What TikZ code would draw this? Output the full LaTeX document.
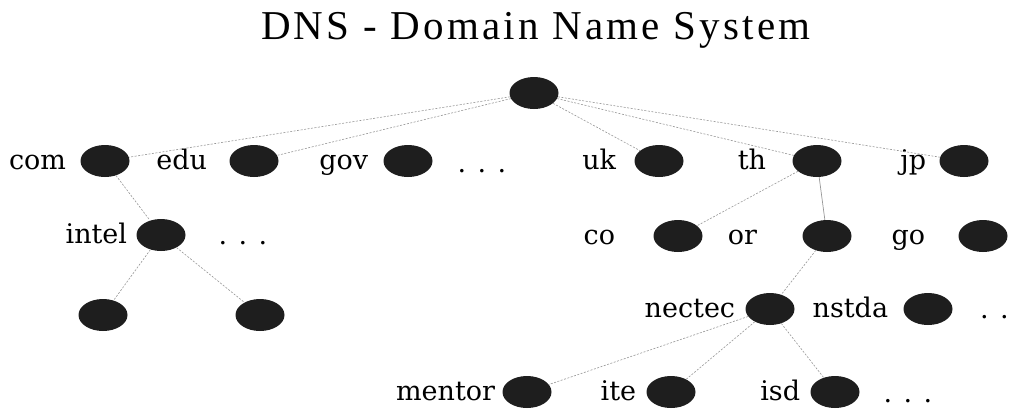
\documentclass[tikz,border=0pt]{standalone}
\usepackage{fontspec}
\setmainfont{DejaVu Serif}
\newfontfamily\titlefont[LetterSpace=8]{Liberation Serif}
\usetikzlibrary{positioning}
\usetikzlibrary{shapes.geometric}
\definecolor{dot-black}{RGB}{30, 30, 30}
\definecolor{link-grey}{RGB}{150, 150, 150}
\tikzset{
  dnsnode/.style={ellipse, fill=dot-black, minimum width=49pt, minimum height=32pt, inner sep=0pt},
  lbl/.style={font=\fontsize{27}{30}\selectfont, inner sep=0pt, text height=17pt, text depth=0pt},
  more/.style={font=\fontsize{27}{30}\selectfont, inner sep=0pt, anchor=base},
  link/.style={draw=link-grey, line width=0.6pt, dash pattern=on 2pt off 1.5pt},
  solidlink/.style={draw=link-grey, line width=0.7pt}
}

\begin{document}
\begin{tikzpicture}[x=1pt, y=-1pt]
\useasboundingbox (0,0) rectangle (1015,408);
\node[font=\titlefont\fontsize{41}{45}\selectfont, anchor=base] (title) at (536,39) {DNS - Domain Name System};

\node[dnsnode] (root) at (534,93) {};

\node[dnsnode] (com) at (105,161) {};
\node[dnsnode] (edu) at (254,161) {};
\node[dnsnode] (gov) at (408,161) {};
\node[dnsnode] (uk) at (659,161) {};
\node[dnsnode] (th) at (817,161) {};
\node[dnsnode] (jp) at (964,161) {};
\node[lbl, left=14pt of com] (com-lbl) {com};
\node[lbl, left=22pt of edu] (edu-lbl) {edu};
\node[lbl, left=15pt of gov] (gov-lbl) {gov};
\node[lbl, left=18pt of uk] (uk-lbl) {uk};
\node[lbl, left=26pt of th] (th-lbl) {th};
\node[lbl, left=13pt of jp] (jp-lbl) {jp};
\node[more] (top-more) at (482,172) {. . .};

\node[dnsnode] (intel) at (161,235) {};
\node[dnsnode] (co) at (678,236) {};
\node[dnsnode] (or) at (827,236) {};
\node[dnsnode] (go) at (983,236) {};
\node[lbl, left=9pt of intel] (intel-lbl) {intel};
\node[lbl, left=38pt of co] (co-lbl) {co};
\node[lbl, left=45pt of or] (or-lbl) {or};
\node[lbl, left=33pt of go] (go-lbl) {go};
\node[more] (intel-more) at (243,244) {. . .};

\node[dnsnode] (intel-a) at (103,315) {};
\node[dnsnode] (intel-b) at (260,315) {};
\node[dnsnode] (nectec) at (770,309) {};
\node[dnsnode] (nstda) at (928,309) {};
\node[lbl, left=10pt of nectec] (nectec-lbl) {nectec};
\node[lbl, left=15pt of nstda] (nstda-lbl) {nstda};
\node[more, anchor=base west] (or-more) at (980,318) {. .};

\node[dnsnode] (mentor) at (527,392) {};
\node[dnsnode] (ite) at (671,392) {};
\node[dnsnode] (isd) at (835,392) {};
\node[lbl, left=7pt of mentor] (mentor-lbl) {mentor};
\node[lbl, left=10pt of ite] (ite-lbl) {ite};
\node[lbl, left=10pt of isd] (isd-lbl) {isd};
\node[more] (nectec-more) at (908,402) {. . .};

\draw[link] (root) -- (com);
\draw[link] (root) -- (edu);
\draw[link] (root) -- (uk);
\draw[link] (root) -- (th);
\draw[link] (root) -- (jp);
\draw[link] (com) -- (intel);
\draw[link] (intel) -- (intel-a);
\draw[link] (intel) -- (intel-b);
\draw[link] (th) -- (co);
\draw[solidlink] (th) -- (or);
\draw[link] (or) -- (nectec);
\draw[link] (nectec) -- (mentor);
\draw[link] (nectec) -- (ite);
\draw[link] (nectec) -- (isd);
\end{tikzpicture}
\end{document}
